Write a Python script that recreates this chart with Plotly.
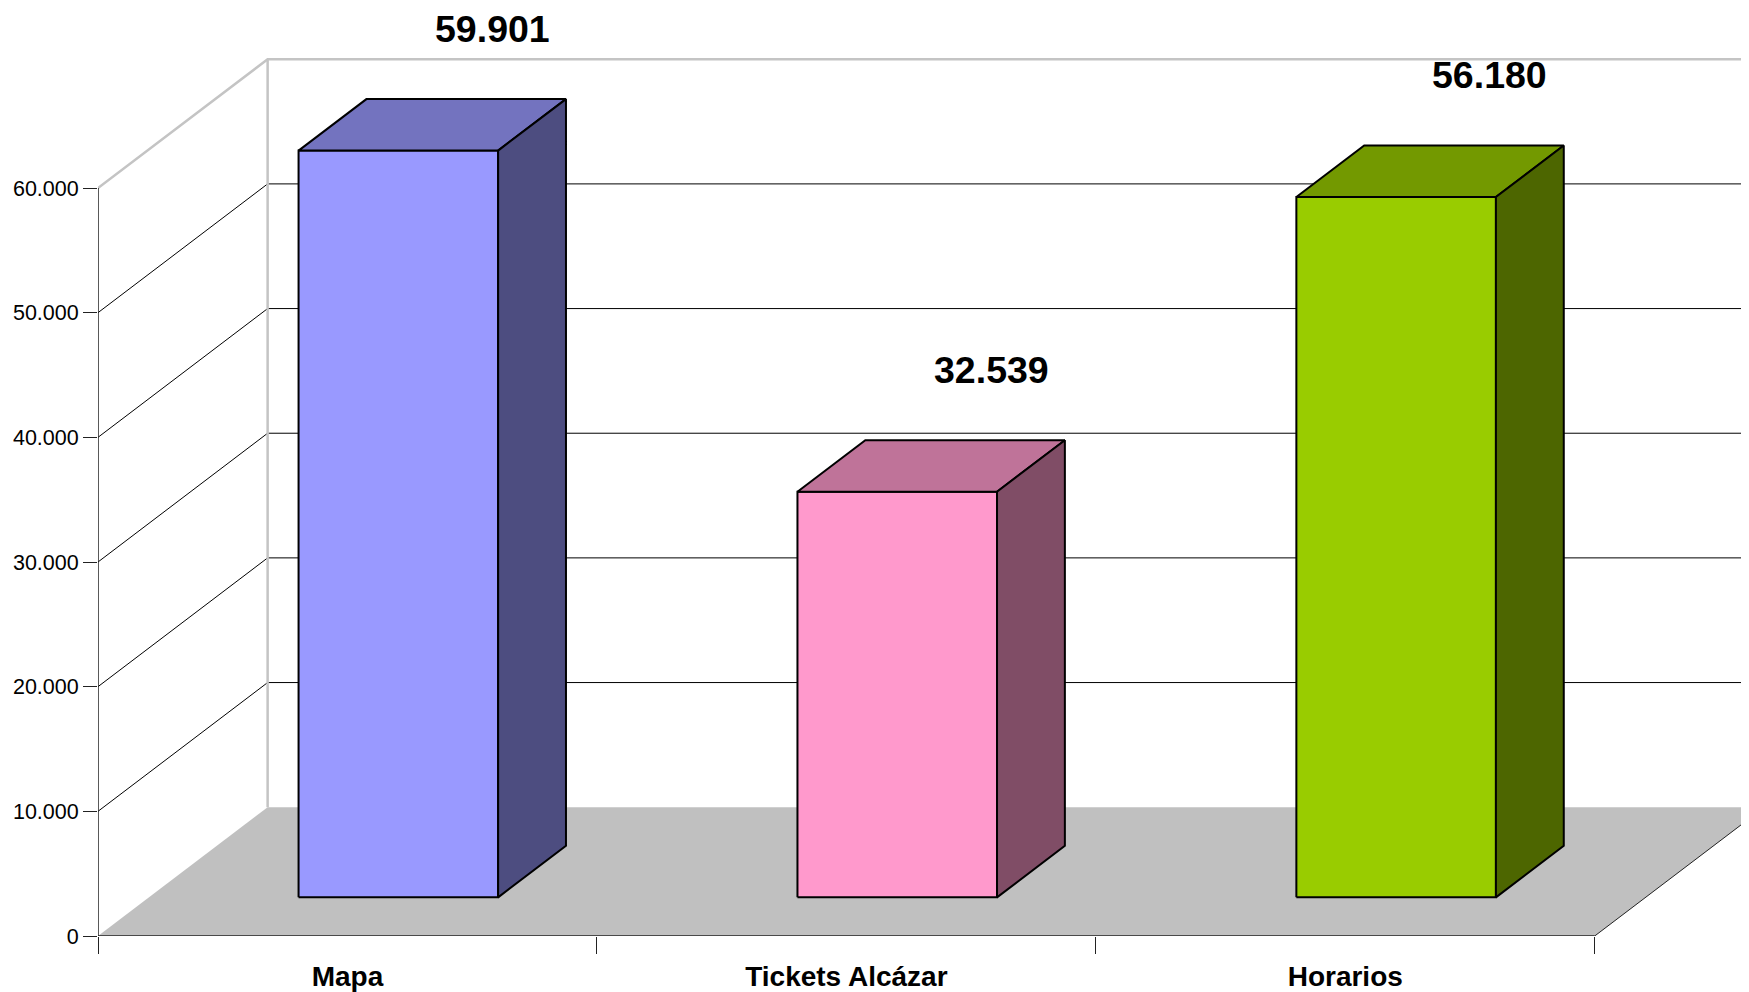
import plotly.graph_objects as go

# ---- data ----
categories = ["Mapa", "Tickets Alcázar", "Horarios"]
values = [59901, 32539, 56180]
y_ticks = [0, 10000, 20000, 30000, 40000, 50000, 60000]

# ---- styles ----
front_colors = ["#9999FF", "#FF99CC", "#99CC00"]
top_colors = ["#7373BF", "#BF7399", "#739900"]
side_colors = ["#4D4D80", "#804D66", "#4D6600"]
FLOOR = "#C0C0C0"
WALL = "#C4C4C4"
FONT = "Liberation Sans, Arial, sans-serif"

# oblique projection of depth (in axis units)
DX = 0.34
DY = 10330
D0, D1 = 0.30, 0.70
HALF = 0.20
FIG_W, FIG_H = 1760, 984
M_L, M_B = 90, 52
PX_PER_X = 498.9
XMAX = (FIG_W - M_L) / PX_PER_X
YMAX = 74440

n = len(categories)
ytop = y_ticks[-1]

fig = go.Figure()


def poly(xs, ys, fill, lw=2, lc="black"):
    fig.add_trace(go.Scatter(
        x=xs + [xs[0]], y=ys + [ys[0]], mode="lines", fill="toself",
        fillcolor=fill, line=dict(color=lc, width=lw),
        hoverinfo="skip", showlegend=False))


def seg(xs, ys, color, width):
    fig.add_trace(go.Scatter(
        x=xs, y=ys, mode="lines", line=dict(color=color, width=width),
        hoverinfo="skip", showlegend=False))


# floor
poly([0, n, n + DX, DX], [0, 0, DY, DY], FLOOR, lw=0, lc="rgba(0,0,0,0)")

# walls and gridlines
for v in y_ticks[1:-1]:
    seg([0, DX, XMAX + 1], [v, v + DY, v + DY], "black", 1)
seg([0, DX, XMAX + 1], [ytop, ytop + DY, ytop + DY], WALL, 2.5)
seg([DX, DX], [DY, ytop + DY], WALL, 2.5)

# front value axis line
seg([0, 0], [0, ytop], "#222222", 1.5)

# bars
ddx = (D1 - D0) * DX
ddy = (D1 - D0) * DY
for i, v in enumerate(values):
    c = i + 0.5
    xl = c - HALF + D0 * DX
    xr = c + HALF + D0 * DX
    yb = D0 * DY
    yt = v + D0 * DY
    poly([xl, xr, xr, xl], [yb, yb, yt, yt], front_colors[i])
    poly([xl, xr, xr + ddx, xl + ddx], [yt, yt, yt + ddy, yt + ddy], top_colors[i])
    poly([xr, xr + ddx, xr + ddx, xr], [yb, yb + ddy, yt + ddy, yt], side_colors[i])
    fig.add_annotation(
        x=c + 0.29, y=v + D1 * DY, yshift=70, showarrow=False,
        text=f"{v:,}".replace(",", "."), xanchor="center", yanchor="middle",
        font=dict(family=FONT, size=37.5, color="black", weight="bold"))

# front floor edge and right floor edge
seg([0, n], [0, 0], "#222222", 1.5)
seg([n, n + DX], [0, DY], "#222222", 1)

# invisible trace on the label axis
fig.add_trace(go.Scatter(x=[0.5], y=[0], xaxis="x2", mode="markers",
                         marker=dict(opacity=0), hoverinfo="skip", showlegend=False))

fig.update_layout(
    width=FIG_W, height=FIG_H,
    margin=dict(l=M_L, r=0, t=0, b=M_B),
    paper_bgcolor="white", plot_bgcolor="white",
    separators=",.",
    showlegend=False,
    xaxis=dict(range=[0, XMAX], tickvals=list(range(n + 1)),
               ticktext=["" for _ in range(n + 1)], ticks="outside",
               ticklen=17, tickwidth=1, tickcolor="#222222",
               showgrid=False, zeroline=False, showline=False, fixedrange=True),
    xaxis2=dict(range=[0, XMAX], overlaying="x", side="bottom", anchor="y",
                tickvals=[i + 0.5 for i in range(n)], ticktext=categories,
                ticks="outside", ticklen=15, tickcolor="rgba(0,0,0,0)",
                tickfont=dict(family=FONT, size=28, color="black", weight="bold"),
                showgrid=False, zeroline=False, showline=False),
    yaxis=dict(range=[0, YMAX], tickvals=y_ticks, tickformat=",d",
               ticks="outside", ticklen=14, tickwidth=1, tickcolor="#222222",
               tickfont=dict(family=FONT, size=21.5, color="black"),
               showgrid=False, zeroline=False, showline=False),
)

fig.write_html("out.html")
